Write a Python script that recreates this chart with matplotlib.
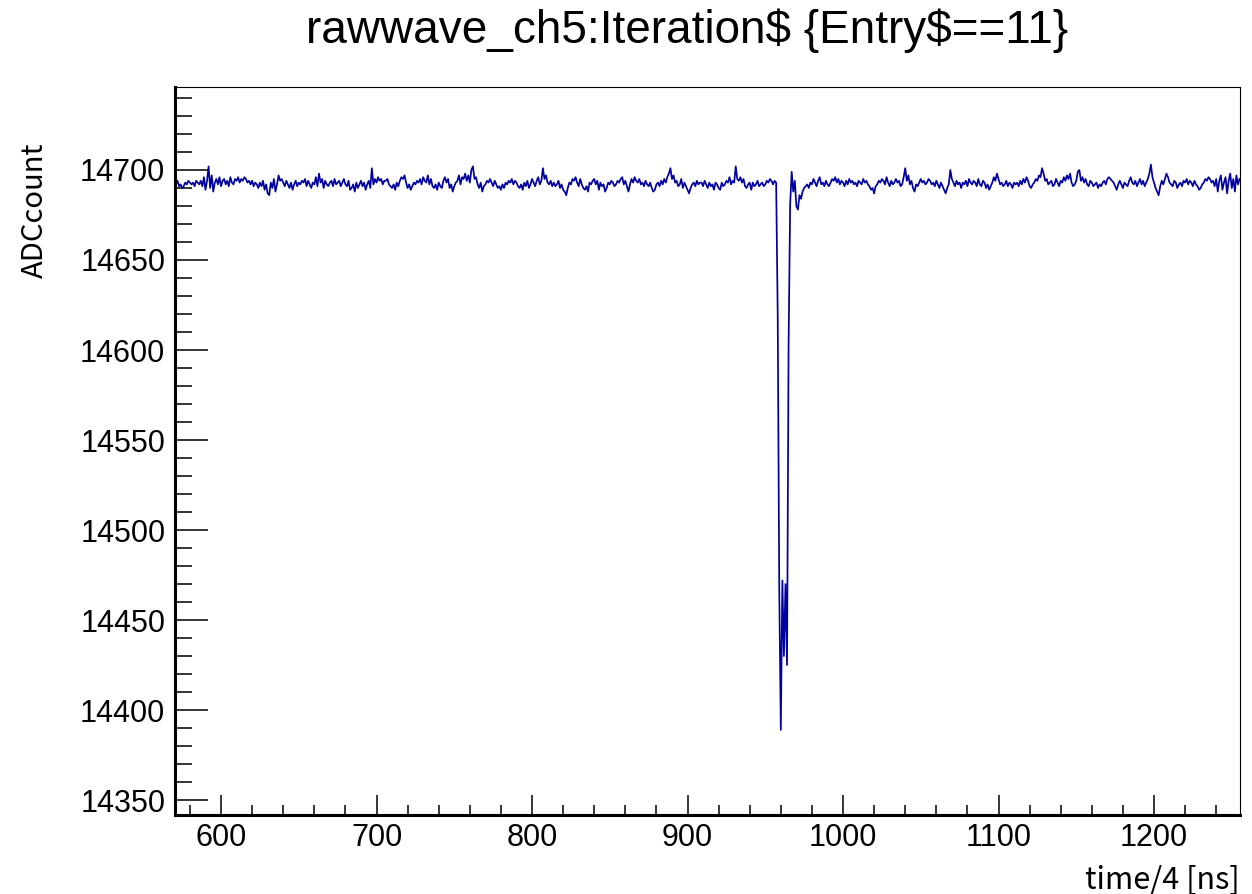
#!/usr/bin/env python3
"""
Raw waveform of channel 5 for one entry (ROOT TTree::Draw style).
"""

import numpy as np
import matplotlib.pyplot as plt
from matplotlib.ticker import MultipleLocator

# ---- data ----
X_START = 570                 # first sample (time/4 ns)
ADC_PEDESTAL = 14692          # baseline level, noise below is given as offset from it

# baseline noise, x = 570 .. 957
noise_a = [1, 0, 2, -1, 0, -2, -1, 1, 0, 2, 1, 0, 1, -1, 2, 1, 0, 2,
           -1, 4, -3, 2, 10, -2, 5, -4,
           1, 3, 0, 4, -1, 2, 3, 0, 2, -1, 4, 1, 0, 3,
           2, 4, 1, 3, 2, 4, 3, 1, 2, 0, 2, -1, 1, 0, -2, 1,
           -1, 2, -3, 0, -5, -6, 1, -2, 3, -4, 0, 5, 2, 3]
noise_b = [1, -1, 2, 0, -2, 1, -3, 0, 2, -1, 1,
           0, 2, 1, 3, -1, 2, 0, -2, 1, 0,
           4, -1, 6, 1, 3, -2, 2, 0, -1, 1,
           2, -1, 3, 0, 1, 2, -1, 1, 3, 0,
           -1, 2, -3, -2, 0, -4, 1, -2, 0, 2,
           -1, 1, -3, 0, 2, -2, 9, 0, 3, 1,
           4, 2, 3, 0, 2]
noise_c = [2, 3, 0, -1, -2, 0, -3, 1, -1, 2,
           4, 3, 5, 1, -2, 0, -3, -1, 1, 0,
           2, 1, 3, 0, 4, 2, 1, 5, 0, 3,
           -1, -2, 0, -3, 1, -1, -2, 2, 4, 1,
           3, -2, 0, -4, -1, 1, 2, 5, 0, 4,
           3, 6, 2, 5, 1, 8, 10, 3, 4, 0,
           -2, 1, -4, -1, 0, 2, 1, 3]
noise_d = [1, -1, 2, 0, -2, -1, -3, 0, -2, 1,
           0, 2, 1, 3, 0, 2, 1, -1, -2, 0,
           -3, 1, -1, 2, -2, 0, 3, 1, -1, 2,
           4, 0, 2, 9, 3, 5, 1, 0, 2, -1,
           1, -1, 0, 2, -2, 0, -3, -4, -6, -2,
           1, 0, 3, 2, 4, 1, -1, 3, 0, -2,
           -3, -1, -4, 1, 0, 2, 3]
noise_e = [0, 2, -3, 1, -1, 0, -4, -2, 1, 0,
           2, 1, -1, 0, 2, 1, 3, 4, 0, 2,
           -1, -4, 0, 3, 1, 4, 2, 1, 3, 0,
           1, -1, 2, 0, -1, 1, -2, -4, -3, 0,
           1, -1, 2, 0, 3, 1, 4, 6, 9, 3,
           5, 1, 2, -1, 0, 3, -2, 1, -1, -3,
           -5, -2, 0, 1, -1, 2, 0, 1]
noise_f = [1, -1, 2, 0, -2, 1, -1, 0, -3, 1,
           0, -2, -3, 1, -1, 0, 2, 1, 4, 0,
           2, 1, 10, 3, 2, 4, 1, 3, -1, -2,
           0, 1, -3, 1, -1, 0, 2, -1, 0, 1,
           -1, 0, 2, 1, 3, 2, 0, 2, 1]

# the pulse, x = 958 .. 973 (absolute ADC counts)
pulse = [14620, 14467, 14389, 14472, 14430, 14470, 14425, 14603, 14681, 14699,
         14688, 14694, 14680, 14678, 14686, 14684]

# baseline noise, x = 974 .. 1255
noise_g = [-4, -2, -1, 0, -2, 1, 0, 3, 1, -1,
           2, 4, 0, 1, -1, 2, 0, -1, 1, 3,
           2, 4, 1, 3, 0, 2, 1, -1, 2, 0,
           3, 1, 2, 0, 1, -1, 2, 1, 0, 3,
           1, 2, 0, -1, -3, -2, -5, -1, 0, 2,
           1, 3, 2, 0, 4, 1, -1, 2, 0, 1,
           3, 1, 2, -1, 0, 4, 9, 2, 5, 0]
noise_h = [2, -2, -4, 0, -1, 1, 3, 1, 2, 0,
           1, 3, 2, 0, 1, -1, 2, 0, -2, 1,
           -1, -3, -5, -2, 0, 8, 3, 1, -1, 2,
           0, 1, -2, 1, 0, 2, -1, 3, 1, 0,
           2, 1, -1, 3, 0, -1, 2, 1, -2, 0,
           -3, -1, 1, 4, 2, 6, 3, 0, 1, -1,
           0, 2, -1, 1, 0, -2, 1]
noise_i = [0, 1, -1, 2, 0, 3, 1, 4, 2, -1,
           -2, 0, 1, 3, 2, 5, 4, 9, 6, 2,
           3, 0, 1, 2, -1, 0, 3, 1, -1, 2,
           1, 4, 2, 5, 3, 6, 1, -1, 0, 2,
           7, 8, 2, 4, 1, 3, 0, -1, 2, 1,
           -1, 0, 1, -2, 0, -1, 1, 2, 0, 3,
           4, 3, 2, 1, -1, -3, 0, 2]
noise_j = [0, -2, 1, 0, -1, 2, 4, 1, 0, 2,
           -1, 1, 3, 0, 2, -1, 1, 3, 6, 11,
           4, 1, -2, -4, -6, -1, 2, 0, 3, 6,
           4, 1, 0, -1, 2, 1, -2, 0, 1, -1,
           2, 1, 3, 0, 2, 1, -1, 2, 0, -1,
           -3, -2, 0, 1, 3, 2, 4, 3, 1, 2,
           -1, 3, -4, 2, 5, -3, 1, 4, -5, 2,
           6, -2, 3, -4, 5, 0, 3]

x_ticks = [600, 700, 800, 900, 1000, 1100, 1200]
y_ticks = [14350, 14400, 14450, 14500, 14550, 14600, 14650, 14700]

TITLE = 'rawwave_ch5:Iteration\\$ {Entry\\$==11}'
XTITLE = 'time/4 [ns]'
YTITLE = 'ADCcount'


def main():
    pre = np.array(noise_a + noise_b + noise_c + noise_d + noise_e + noise_f) + ADC_PEDESTAL
    post = np.array(noise_g + noise_h + noise_i + noise_j) + ADC_PEDESTAL
    adc = np.concatenate([pre, np.array(pulse), post])
    x = np.arange(X_START, X_START + len(adc))

    fig = plt.figure(figsize=(12.52, 8.94), dpi=100)
    ax = fig.add_axes([175 / 1252, 79 / 894, 1065 / 1252, 728 / 894])

    ax.plot(x, adc, color='#0000a0', linewidth=1.25)

    ax.set_xlim(570.4, 1255.3)
    ax.set_ylim(14341.7, 14746.1)

    # ROOT-like frame: thick left/bottom axes, thin box
    for side in ('left', 'bottom'):
        ax.spines[side].set_linewidth(2.2)
    for side in ('top', 'right'):
        ax.spines[side].set_linewidth(0.8)

    ax.set_xticks(x_ticks)
    ax.set_yticks(y_ticks)
    ax.xaxis.set_minor_locator(MultipleLocator(20))
    ax.yaxis.set_minor_locator(MultipleLocator(10))
    ax.tick_params(axis='y', which='major', direction='in', length=24, width=1.1, pad=7)
    ax.tick_params(axis='y', which='minor', direction='in', length=12, width=1.1)
    ax.tick_params(axis='x', which='major', direction='in', length=14.5, width=1.1, pad=6)
    ax.tick_params(axis='x', which='minor', direction='in', length=7.2, width=1.1)
    for lab in ax.get_xticklabels() + ax.get_yticklabels():
        lab.set_fontfamily('Liberation Sans')
        lab.set_fontsize(22)

    fig.text(687 / 1252, 1 - 31 / 894, TITLE, ha='center', va='center',
             fontsize=33, family='Liberation Sans')
    fig.text(35 / 1252, 1 - 143 / 894, YTITLE, rotation=90, ha='center', va='top',
             fontsize=21, family=['Noto Sans CJK JP', 'DejaVu Sans'])
    fig.text(1240 / 1252, 1 - 880 / 894, XTITLE, ha='right', va='center',
             fontsize=22, family=['Noto Sans CJK JP', 'DejaVu Sans'])

    fig.savefig('out.png', dpi=100)
    plt.close(fig)


if __name__ == '__main__':
    main()
